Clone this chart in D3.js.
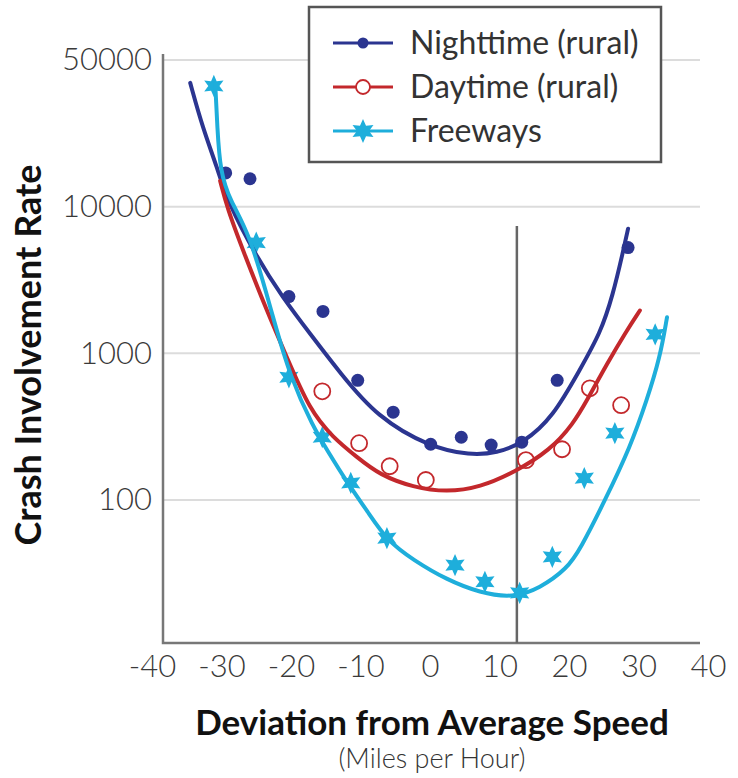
<!DOCTYPE html>
<html>
<head>
<meta charset="utf-8">
<script src="https://cdn.jsdelivr.net/npm/d3@7"></script>
<style>
  body { margin: 0; background: #fff; }
  text { font-family: Lato, 'Open Sans', sans-serif; }
</style>
</head>
<body>
<div id="chart"></div>
<script>
// measured points (mph deviation, crash involvement rate)
var nightX = [-29.4, -25.9, -20.3, -15.4, -10.4, -5.3, 0.1, 4.5, 8.8, 13.2, 18.3, 28.5];
var nightY = [17000, 15500, 2440, 1930, 655, 397, 240, 268, 237, 248, 655, 5260];

var dayX = [-15.5, -10.2, -5.8, -0.6, 13.8, 19.0, 23.0, 27.5];
var dayY = [551, 244, 170, 137, 187, 222, 578, 443];

var freeX = [-31.1, -25.0, -20.3, -15.5, -11.4, -6.2, 3.6, 7.9, 12.9, 17.6, 22.2, 26.6, 32.4];
var freeY = [66500, 5690, 687, 268, 131, 55, 36, 27.7, 23.3, 41, 141, 286, 1346];

// fitted curves
var nightCurveX = [-34.5, -32.7, -30.6, -29.2, -24.9, -21.2, -17.3, -12.9, -7.6, 0, 5.8, 9.6, 13.4, 17.7, 21.6, 24.5, 26.3, 27.8, 28.5];
var nightCurveY = [69800, 34400, 18400, 10990, 4500, 2400, 1370, 731, 367, 229, 202, 209, 244, 367, 780, 1368, 2480, 5000, 7080];

var dayCurveX = [-30.2, -29.2, -26.9, -23.5, -20.6, -17.3, -14.0, -10.5, -7.2, -2.4, 2.4, 7.2, 12.2, 17.3, 20.6, 22.6, 25.5, 28.3, 30.2];
var dayCurveY = [15000, 9850, 5020, 1960, 940, 410, 268, 196, 148, 122, 113, 122, 155, 219, 330, 479, 855, 1430, 1960];

var freeCurveX = [-30.9, -30.6, -30.2, -28.8, -25.9, -22.6, -20.1, -16.8, -14.8, -11.9, -9.0, -6.2, -2.4, 2.4, 7.2, 11.9, 15.8, 19.7, 21.6, 25.2, 28.8, 31.2, 33.1, 34.1];
var freeCurveY = [68700, 34400, 17600, 11000, 6550, 1760, 687, 314, 219, 131, 84, 53, 39, 28.6, 23.3, 21.5, 25, 34, 46, 100, 229, 479, 940, 1760];

var refLineX = 12.5;

var xTicks = [-40, -30, -20, -10, 0, 10, 20, 30, 40];
var yTicks = [100, 1000, 10000, 100000];
var yTickLabels = ['100', '1000', '10000', '50000'];

var seriesNames = ['Nighttime (rural)', 'Daytime (rural)', 'Freeways'];
var colours = ['#2b3590', '#c3282c', '#1eaedb'];

var width = 738, height = 778;
var plotLeft = 163, plotRight = 700, plotTop = 54, plotBottom = 643;

var svg = d3.select('#chart').append('svg')
    .attr('width', width)
    .attr('height', height);

var xScale = d3.scaleLinear().domain([-40, 40]).range([152, 708]),
    yScale = d3.scaleLog().domain([10.6, 100000]).range([plotBottom, 60]);

// gridlines
svg.append('g')
    .selectAll('line')
    .data(yTicks)
  .enter().append('line')
    .attr('x1', plotLeft)
    .attr('x2', plotRight)
    .attr('y1', function(d) { return yScale(d); })
    .attr('y2', function(d) { return yScale(d); })
    .style('stroke', '#dcdcdc')
    .style('stroke-width', 2);

// y axis
var yAxis = svg.append('g')
    .attr('transform', 'translate(' + plotLeft + ',0)')
    .call(d3.axisLeft(yScale)
      .tickValues(yTicks)
      .tickSize(0)
      .tickPadding(11)
      .tickFormat(function(d, i) { return yTickLabels[i]; }));
yAxis.select('.domain').remove();
yAxis.selectAll('text')
    .style('font-size', '31px')
    .style('font-weight', 300)
    .style('fill', '#3a3a3a');

// x axis
var xAxis = svg.append('g')
    .attr('transform', 'translate(0,' + plotBottom + ')')
    .call(d3.axisBottom(xScale)
      .tickValues(xTicks)
      .tickSize(0)
      .tickPadding(12)
      .tickFormat(function(d) { return String(d); }));
xAxis.select('.domain').remove();
xAxis.selectAll('text')
    .style('font-size', '31px')
    .style('font-weight', 300)
    .style('fill', '#3a3a3a');

// frame
svg.append('path')
    .attr('d', 'M' + plotLeft + ',' + plotTop + 'V' + plotBottom + 'H' + plotRight)
    .style('fill', 'none')
    .style('stroke', '#777')
    .style('stroke-width', 2.5);

// vertical reference line
svg.append('line')
    .attr('x1', xScale(refLineX))
    .attr('x2', xScale(refLineX))
    .attr('y1', 226)
    .attr('y2', plotBottom)
    .style('stroke', '#666')
    .style('stroke-width', 2.5);

var line = d3.line()
    .x(function(d) { return xScale(d[0]); })
    .y(function(d) { return yScale(d[1]); })
    .curve(d3.curveBasis);

function zip(a, b) { return a.map(function(v, i) { return [v, b[i]]; }); }

var curves = [zip(nightCurveX, nightCurveY), zip(dayCurveX, dayCurveY), zip(freeCurveX, freeCurveY)];

// six pointed star
var star6 = {
  draw: function(context, size) {
    var r = Math.sqrt(size) * 0.75, ri = r * 0.5;
    for (var i = 0; i < 12; i++) {
      var a = Math.PI / 6 * i - Math.PI / 2;
      var rr = i % 2 ? ri : r;
      if (i === 0) context.moveTo(rr * Math.cos(a), rr * Math.sin(a));
      else context.lineTo(rr * Math.cos(a), rr * Math.sin(a));
    }
    context.closePath();
  }
};

// points
svg.append('g').selectAll('circle')
    .data(zip(nightX, nightY))
  .enter().append('circle')
    .attr('r', 6.5)
    .attr('cx', function(d) { return xScale(d[0]); })
    .attr('cy', function(d) { return yScale(d[1]); })
    .style('fill', colours[0]);

svg.append('g').selectAll('circle')
    .data(zip(dayX, dayY))
  .enter().append('circle')
    .attr('r', 8)
    .attr('cx', function(d) { return xScale(d[0]); })
    .attr('cy', function(d) { return yScale(d[1]); })
    .style('fill', 'none')
    .style('stroke', colours[1])
    .style('stroke-width', 1.8);

svg.append('g').selectAll('path')
    .data(zip(freeX, freeY))
  .enter().append('path')
    .attr('d', d3.symbol().type(star6).size(220))
    .attr('transform', function(d) { return 'translate(' + xScale(d[0]) + ',' + yScale(d[1]) + ')'; })
    .style('fill', colours[2]);

// curves
svg.append('g').selectAll('path')
    .data(curves)
  .enter().append('path')
    .attr('d', line)
    .style('fill', 'none')
    .style('stroke', function(d, i) { return colours[i]; })
    .style('stroke-width', 4)
    .style('stroke-linecap', 'round');

// axis titles
svg.append('text')
    .attr('transform', 'translate(41,355) rotate(-90)')
    .style('text-anchor', 'middle')
    .style('font-size', '36px')
    .style('font-weight', 'bold')
    .style('fill', '#111')
    .text('Crash Involvement Rate');

svg.append('text')
    .attr('x', 432)
    .attr('y', 735)
    .style('text-anchor', 'middle')
    .style('font-size', '35px')
    .style('font-weight', 'bold')
    .style('fill', '#111')
    .text('Deviation from Average Speed');

svg.append('text')
    .attr('x', 432)
    .attr('y', 768)
    .style('text-anchor', 'middle')
    .style('font-size', '27px')
    .style('font-weight', 300)
    .style('fill', '#333')
    .text('(Miles per Hour)');

// legend
var legend = svg.append('g');
legend.append('rect')
    .attr('x', 309)
    .attr('y', 7)
    .attr('width', 352)
    .attr('height', 155)
    .style('fill', '#fff')
    .style('stroke', '#555')
    .style('stroke-width', 2.5);

var rows = legend.selectAll('.legend-row')
    .data(seriesNames)
  .enter().append('g')
    .attr('class', 'legend-row')
    .attr('transform', function(d, i) { return 'translate(0,' + (43 + i * 44) + ')'; });

rows.append('line')
    .attr('x1', 333)
    .attr('x2', 393)
    .style('stroke', function(d, i) { return colours[i]; })
    .style('stroke-width', 3);

rows.each(function(d, i) {
  var g = d3.select(this);
  if (i === 0) {
    g.append('circle').attr('cx', 363).attr('r', 5.5).style('fill', colours[0]);
  } else if (i === 1) {
    g.append('circle').attr('cx', 363).attr('r', 7).style('fill', '#fff')
        .style('stroke', colours[1]).style('stroke-width', 1.8);
  } else {
    g.append('path').attr('d', d3.symbol().type(star6).size(260))
        .attr('transform', 'translate(363,0)').style('fill', colours[2]);
  }
});

rows.append('text')
    .attr('x', 410)
    .attr('dy', '0.35em')
    .style('font-size', '32px')
    .style('fill', '#333')
    .text(function(d) { return d; });
</script>
</body>
</html>
